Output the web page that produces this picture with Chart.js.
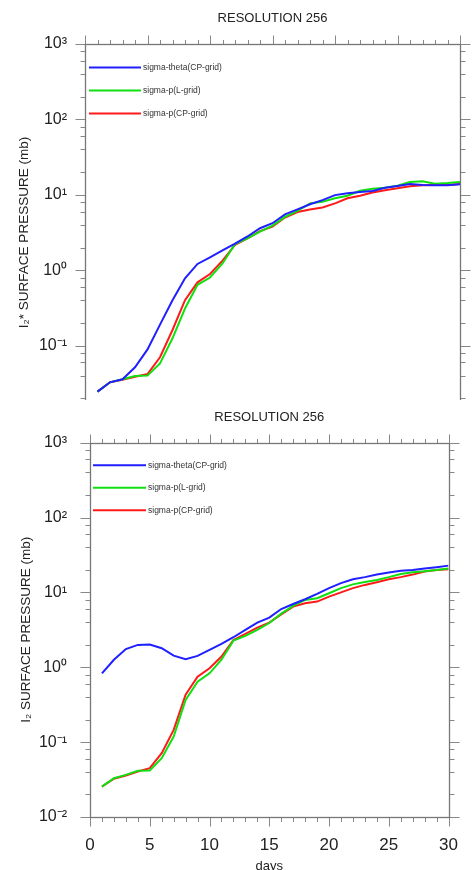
<!DOCTYPE html>
<html>
<head>
<meta charset="utf-8">
<script src="https://cdn.jsdelivr.net/npm/chart.js@4/dist/chart.umd.min.js"></script>
<style>
  body { margin: 0; background: #fff; width: 476px; height: 870px; overflow: hidden; position: relative; }
  #topWrap { position: absolute; left: 0; top: 0; width: 476px; height: 400px; overflow: hidden; }
  #bottomChart { position: absolute; left: 0; top: 400px; }
</style>
</head>
<body>
<div id="topWrap"><canvas id="topChart" width="476" height="461"></canvas></div>
<canvas id="bottomChart" width="476" height="480"></canvas>
<script>
// days 1..30
var days = [];
for (var d = 1; d <= 30; d++) days.push(d);

var seriesNames = ['sigma-theta(CP-grid)', 'sigma-p(L-grid)', 'sigma-p(CP-grid)'];
var seriesColors = ['#1f1fff', '#10e010', '#ff1a1a'];

// top panel (I2* surface pressure, mb)
var topTheta = [0.0245, 0.0326, 0.0357, 0.0515, 0.089, 0.19, 0.40, 0.78, 1.21, 1.48,
                1.83, 2.25, 2.8, 3.6, 4.2, 5.5, 6.4, 7.5, 8.5, 9.9,
                10.5, 10.9, 11.2, 12.4, 13.1, 13.9, 13.5, 13.4, 13.4, 13.8];
var topPL = [0.0245, 0.0326, 0.0357, 0.0395, 0.040, 0.058, 0.125, 0.31, 0.64, 0.80,
             1.23, 2.22, 2.65, 3.24, 3.9, 5.1, 6.1, 7.7, 8.1, 9.0,
             9.7, 11.3, 12.0, 12.4, 13.2, 14.8, 15.1, 14.0, 14.3, 14.8];
var topPCP = [0.0245, 0.0326, 0.0352, 0.0387, 0.042, 0.070, 0.161, 0.40, 0.69, 0.89,
              1.34, 2.16, 2.65, 3.3, 3.8, 5.0, 5.9, 6.4, 6.8, 7.7,
              9.0, 9.7, 10.7, 11.5, 12.2, 13.0, 13.4, 13.5, 13.5, 13.9];

// bottom panel (I2 surface pressure, mb)
var botTheta = [0.83, 1.26, 1.75, 1.99, 2.01, 1.80, 1.43, 1.28, 1.42, 1.71,
                2.05, 2.52, 3.16, 3.95, 4.6, 6.0, 7.0, 8.1, 9.55, 11.4,
                13.3, 15.0, 16.0, 17.3, 18.4, 19.5, 19.9, 20.8, 21.7, 22.8];
var botPL = [0.0255, 0.033, 0.0365, 0.0414, 0.0418, 0.061, 0.119, 0.367, 0.644, 0.83,
             1.26, 2.27, 2.63, 3.16, 3.9, 5.2, 6.6, 7.94, 8.36, 9.75,
             11.4, 12.8, 13.8, 14.7, 16.0, 17.6, 18.6, 19.2, 20.0, 20.8];
var botPCP = [0.0255, 0.0324, 0.0358, 0.0405, 0.045, 0.0713, 0.146, 0.43, 0.75, 0.97,
              1.39, 2.32, 2.79, 3.39, 3.95, 5.1, 6.46, 7.18, 7.54, 8.79,
              10.0, 11.4, 12.6, 13.7, 15.0, 16.0, 17.3, 19.0, 20.0, 20.4];

var yTickValues = [0.01, 0.1, 1, 10, 100, 1000];
var xTickValues = [0, 5, 10, 15, 20, 25, 30];

var FONT = 'Liberation Sans, Arial, Helvetica, sans-serif';
var sup = { '-': '\u207B', '0': '\u2070', '1': '\u00B9', '2': '\u00B2', '3': '\u00B3' };

function expLabel(v) {
  var e = Math.round(Math.log10(v));
  if (Math.abs(Math.log10(v) - e) > 1e-6) return '';
  return '10' + String(e).split('').map(function(c) { return sup[c]; }).join('');
}

// NCL-like frame: box with outward major/minor ticks, plus the inline legend
var framePlugin = {
  id: 'frame',
  afterDatasetsDraw: function(chart, args, opts) {
    var ctx = chart.ctx, a = chart.chartArea;
    var x = chart.scales.x, y = chart.scales.y;
    ctx.save();
    var L = Math.round(a.left) + 0.5, R = Math.round(a.right) + 0.5;
    var T = Math.round(a.top) + 0.5, B = Math.round(a.bottom) + 0.5;
    ctx.strokeStyle = '#888';
    ctx.lineWidth = 1;
    ctx.beginPath();
    for (var d = 0; d <= 30; d++) {
      var px = Math.round(x.getPixelForValue(d)) + 0.5;
      var len = d % 5 === 0 ? 9 : 4.5;
      ctx.moveTo(px, T); ctx.lineTo(px, T - len);
      ctx.moveTo(px, B); ctx.lineTo(px, B + len);
    }
    for (var e = -2; e <= 3; e++) {
      [1, 2, 4, 6, 8].forEach(function(m) {
        var v = m * Math.pow(10, e);
        if (v > 1000) return;
        var py = Math.round(y.getPixelForValue(v)) + 0.5;
        var l = m === 1 ? 10 : 5;
        ctx.moveTo(L, py); ctx.lineTo(L - l, py);
        ctx.moveTo(R, py); ctx.lineTo(R + l, py);
      });
    }
    ctx.stroke();
    ctx.strokeStyle = '#777';
    ctx.lineWidth = 1.3;
    ctx.strokeRect(L, T, R - L, B - T);

    // legend
    ctx.font = '8.5px ' + FONT;
    ctx.textBaseline = 'middle';
    ctx.textAlign = 'left';
    chart.data.datasets.forEach(function(ds, i) {
      var ly = a.top + opts.dy + i * opts.step;
      ctx.strokeStyle = ds.borderColor;
      ctx.lineWidth = 2;
      ctx.beginPath();
      ctx.moveTo(a.left + opts.x0, ly);
      ctx.lineTo(a.left + opts.x1, ly);
      ctx.stroke();
      ctx.fillStyle = '#333';
      ctx.fillText(ds.label, a.left + opts.x1 + 2, ly);
    });
    ctx.restore();
  }
};

function makeDatasets(vals) {
  return vals.map(function(v, i) {
    return {
      label: seriesNames[i],
      data: v,
      borderColor: seriesColors[i],
      backgroundColor: seriesColors[i],
      borderWidth: 2,
      pointRadius: 0,
      tension: 0
    };
  });
}

function makeChart(id, vals, cfg) {
  return new Chart(document.getElementById(id), {
    type: 'line',
    data: { labels: days, datasets: makeDatasets(vals) },
    plugins: [framePlugin],
    options: {
      responsive: false,
      animation: false,
      layout: { padding: { left: 0, right: cfg.padRight, top: 0, bottom: 0 } },
      plugins: {
        legend: { display: false },
        tooltip: { enabled: false },
        title: {
          display: true,
          text: 'RESOLUTION 256',
          fullSize: false,
          color: '#222',
          font: { family: FONT, size: 13, weight: 'normal' },
          padding: { top: cfg.titleTop, bottom: cfg.titleBottom }
        },
        frame: cfg.legend
      },
      scales: {
        x: {
          type: 'linear',
          min: 0, max: 30,
          grid: { display: false, drawTicks: false },
          border: { display: false },
          afterBuildTicks: function(s) { s.ticks = xTickValues.map(function(v) { return { value: v }; }); },
          afterFit: function(s) { s.height = cfg.xHeight; },
          ticks: {
            display: cfg.showX,
            color: '#222',
            padding: 18,
            maxRotation: 0,
            autoSkip: false,
            font: { family: FONT, size: 17 }
          },
          title: {
            display: cfg.showX,
            text: 'days',
            color: '#222',
            font: { family: FONT, size: 13 },
            padding: { top: 0, bottom: 6 }
          }
        },
        y: {
          type: 'logarithmic',
          min: 0.01, max: 1000,
          grid: { display: false, drawTicks: false },
          border: { display: false },
          afterBuildTicks: function(s) { s.ticks = yTickValues.map(function(v) { return { value: v }; }); },
          afterFit: function(s) { s.width = cfg.yWidth; },
          ticks: {
            color: '#222',
            padding: cfg.yPad,
            autoSkip: false,
            font: { family: FONT, size: 16 },
            callback: function(v) { return expLabel(v); }
          },
          title: {
            display: true,
            text: cfg.yTitle,
            color: '#222',
            font: { family: FONT, size: 13.5 },
            padding: { top: cfg.yTitlePad, bottom: 0 }
          }
        }
      }
    }
  });
}

makeChart('topChart', [topTheta, topPL, topPCP], {
  padRight: 16, titleTop: 11, titleBottom: 17.4, xHeight: 40, showX: false,
  yWidth: 85, yPad: 18, yTitlePad: 16,
  yTitle: 'I\u2082* SURFACE PRESSURE (mb)',
  legend: { x0: 4, x1: 56, dy: 23.5, step: 23 }
});

makeChart('bottomChart', [botTheta, botPL, botPCP], {
  padRight: 11, titleTop: 10, titleBottom: 17.1, xHeight: 63, showX: true,
  yWidth: 90, yPad: 23, yTitlePad: 18.5,
  yTitle: 'I\u2082 SURFACE PRESSURE (mb)',
  legend: { x0: 3, x1: 56, dy: 22.5, step: 22.5 }
});
</script>
</body>
</html>
